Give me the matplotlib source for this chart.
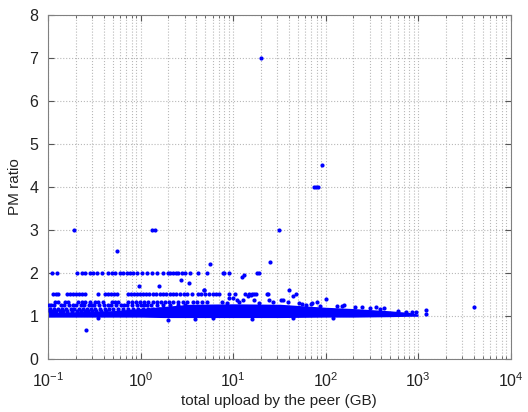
import matplotlib
matplotlib.use("Agg")
import matplotlib.pyplot as plt
from matplotlib.ticker import LogLocator, NullFormatter

plt.rcParams['font.family'] = ['Liberation Sans', 'DejaVu Sans']
plt.rcParams['mathtext.default'] = 'regular'

# dense core of the cloud: envelope (upload GB, lower ratio, upper ratio)
band_x = [0.1, 0.22, 0.47, 1.0, 1.8, 3.4, 10, 32, 100, 200, 480, 800, 1000]
band_lo = [0.97, 0.97, 0.97, 0.97, 0.96, 0.96, 0.96, 0.96, 0.97, 0.97, 0.98, 0.99, 0.99]
band_hi = [1.08, 1.10, 1.12, 1.17, 1.22, 1.27, 1.28, 1.27, 1.20, 1.17, 1.12, 1.08, 1.04]

# peers sitting on discrete ratios
row2_x = [0.110, 0.125, 0.205, 0.232, 0.251, 0.284, 0.306, 0.337, 0.382, 0.444,
          0.490, 0.527, 0.597, 0.643, 0.710, 0.766, 0.824, 0.910, 1.03, 1.17,
          1.32, 1.50, 1.73, 1.96, 2.07, 2.22, 2.40, 2.52, 2.78, 2.99, 3.39,
          4.13, 5.17, 7.69, 8.07, 9.15, 18.3, 19.2]
row15_x = [0.113, 0.122, 0.128, 0.160, 0.173, 0.186, 0.200, 0.216, 0.232, 0.251,
           0.346, 0.411, 0.443, 0.477, 0.514, 0.554, 0.728, 0.784, 0.845, 0.910,
           0.98, 1.06, 1.14, 1.22, 1.35, 1.46, 1.61, 1.73, 1.87, 2.07, 2.22,
           2.39, 2.64, 2.92, 3.15, 3.56, 4.13, 4.45, 4.92, 5.43, 6.00, 6.62,
           7.13, 9.15, 10.4, 13.3, 14.7, 16.2, 17.9, 23.5]
row133_x = [0.119, 0.128, 0.152, 0.164, 0.211, 0.232, 0.251, 0.284, 0.321, 0.346,
            0.392, 0.490, 0.527, 0.568, 0.728, 0.804, 0.887, 0.98, 1.08, 1.20,
            1.35, 1.50, 1.65, 1.82, 2.01, 2.22, 2.52, 2.85, 3.15, 3.65, 4.03,
            4.56, 5.17]
row125_x = [0.102, 0.108, 0.115, 0.138, 0.149, 0.168, 0.185, 0.200, 0.227, 0.244,
            0.277, 0.295, 0.313, 0.355, 0.401, 0.440, 0.477, 0.541, 0.612, 0.660,
            0.710, 0.804, 0.910, 1.00, 1.08, 1.18, 1.29, 1.50, 1.73, 2.07, 2.52,
            2.99]
row117_x = [0.105, 0.116, 0.128, 0.142, 0.156, 0.177, 0.191, 0.216, 0.238, 0.263,
            0.291, 0.321, 0.363, 0.411, 0.454, 0.501, 0.568, 0.643, 0.728, 0.824,
            0.933, 1.05, 1.20, 1.38, 1.60]
row111_x = [0.104, 0.112, 0.121, 0.133, 0.146, 0.162, 0.181, 0.204, 0.225, 0.250,
            0.270, 0.300, 0.330, 0.370, 0.420]

# scattered peers outside the core
other_x = [4.8, 9.15, 9.9, 11.0, 12.7, 14.4, 15.7, 17.0, 17.0, 23.7, 24.7, 33.0,
           40.5, 38.8, 44.0, 47.9, 52.0, 61.4, 69.5, 81.8, 101, 34.4, 72.0, 134,
           348, 428, 733, 865, 940, 1205, 1205, 4060, 160, 250, 600,
           20.0, 91, 75, 79, 83, 0.19, 1.33, 1.43, 31, 0.55, 5.7, 25, 12.5, 13.2,
           2.75, 3.3, 4.8, 0.97, 1.57,
           0.26, 2.0, 3.9, 15.9, 6.0, 0.35, 45, 120,
           7.5, 8.5, 11.5, 19.0, 27.0, 56.0, 88.0, 150, 210, 300, 390]
other_y = [1.60, 1.41, 1.41, 1.36, 1.37, 1.45, 1.49, 1.51, 1.37, 1.51, 1.37, 1.36,
           1.60, 1.33, 1.45, 1.51, 1.31, 1.26, 1.28, 1.33, 1.39, 1.37, 1.30, 1.22,
           1.20, 1.18, 1.10, 1.08, 1.08, 1.14, 1.05, 1.20, 1.25, 1.20, 1.12,
           7.0, 4.5, 4.0, 4.0, 4.0, 3.0, 3.0, 3.0, 3.0, 2.5, 2.2, 2.26, 1.90, 1.95,
           1.84, 1.77, 1.60, 1.70, 1.70,
           0.68, 0.90, 0.93, 0.92, 0.95, 0.95, 0.94, 0.95,
           1.33, 1.30, 1.33, 1.31, 1.32, 1.27, 1.24, 1.22, 1.21, 1.18, 1.16]

blue = '#0000ff'
dot = 9

fig = plt.figure(figsize=(5.28, 4.12), dpi=100)
ax = fig.add_axes([0.091, 0.129, 0.876, 0.835])

ax.fill_between(band_x, band_lo, band_hi, color=blue, lw=0, zorder=2)

rows = [(row2_x, 2.0), (row15_x, 1.5), (row133_x, 1.333),
        (row125_x, 1.25), (row117_x, 1.17), (row111_x, 1.11)]
for xs, r in rows:
    ax.scatter(xs, [r] * len(xs), s=dot, color=blue, lw=0, zorder=3)
ax.scatter(other_x, other_y, s=dot, color=blue, lw=0, zorder=3)

ax.set_xscale('log')
ax.set_xlim(0.1, 1e4)
ax.set_ylim(0, 8)
ax.set_yticks(range(0, 9))
ax.xaxis.set_minor_locator(LogLocator(base=10, subs=range(2, 10), numticks=20))
ax.xaxis.set_minor_formatter(NullFormatter())

ax.grid(True, which='major', color='#b8b8b8', linestyle=':', linewidth=0.8)
ax.grid(True, which='minor', axis='x', color='#b8b8b8', linestyle=':', linewidth=0.8)
ax.set_axisbelow(True)

ax.tick_params(which='both', direction='in', top=True, right=True,
               colors='#555555', labelcolor='#222222', labelsize=11.5)
ax.tick_params(which='major', length=4)
ax.tick_params(which='minor', length=2)
ax.tick_params(axis='x', which='major', pad=9)
ax.tick_params(axis='y', which='major', pad=7)
for s in ax.spines.values():
    s.set_color('#808080')

ax.set_xlabel('total upload by the peer (GB)', fontsize=11, color='#222222', labelpad=3)
ax.set_ylabel('PM ratio', fontsize=11, color='#222222', labelpad=5)

fig.savefig('out.png', dpi=100)
